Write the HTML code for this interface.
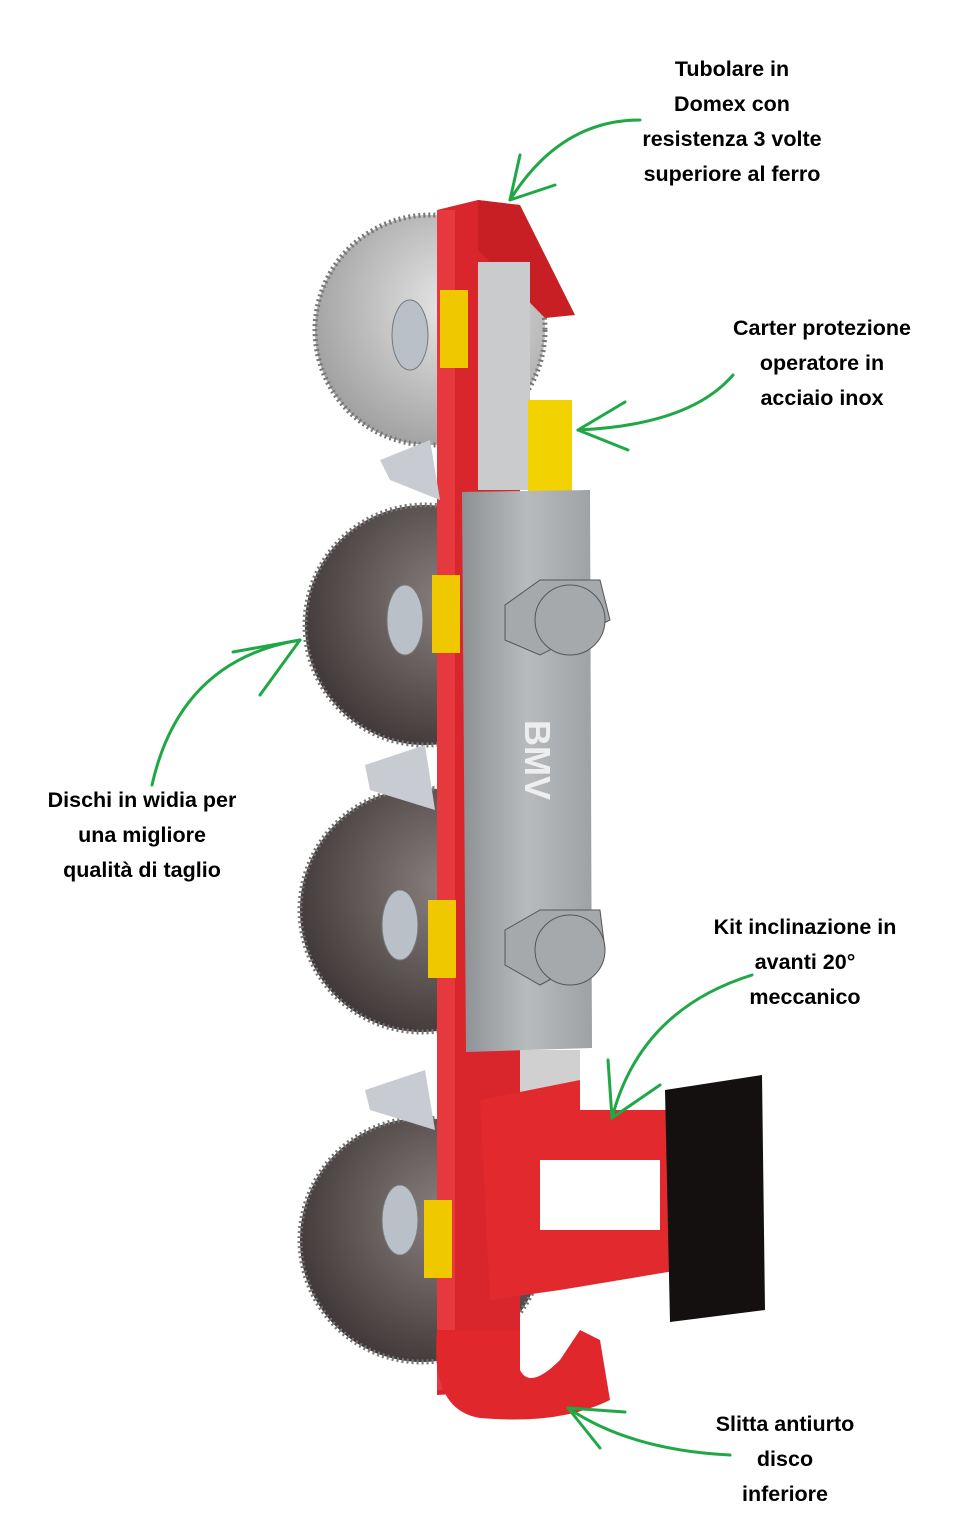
<!DOCTYPE html>
<html><head><meta charset="utf-8"><style>
html,body{margin:0;padding:0;background:#fff;}
svg{display:block}
text{font-family:"Liberation Sans",sans-serif;font-weight:bold;font-size:21.5px;fill:#000;text-anchor:middle}
</style></head><body>
<svg width="963" height="1538" viewBox="0 0 963 1538" xmlns="http://www.w3.org/2000/svg">
<defs>
<radialGradient id="gb" cx="0.6" cy="0.4" r="0.7"><stop offset="0" stop-color="#8a8080"/><stop offset="1" stop-color="#3a3232"/></radialGradient>
<radialGradient id="sb" cx="0.6" cy="0.4" r="0.7"><stop offset="0" stop-color="#e8e8e8"/><stop offset="1" stop-color="#9a9a9a"/></radialGradient>
<linearGradient id="pl" x1="0" x2="1"><stop offset="0" stop-color="#8e9194"/><stop offset="0.5" stop-color="#b8bbbd"/><stop offset="1" stop-color="#9ea2a5"/></linearGradient>
</defs>
<g stroke="#777" stroke-width="5" stroke-dasharray="2 3">
<circle cx="430" cy="330" r="115" fill="url(#sb)"/>
<circle cx="425" cy="625" r="120" fill="url(#gb)"/>
<circle cx="422" cy="910" r="122" fill="url(#gb)"/>
<circle cx="422" cy="1240" r="122" fill="url(#gb)"/>
</g>
<g fill="#b9c0c8" stroke="#777">
<ellipse cx="410" cy="335" rx="18" ry="35"/><ellipse cx="405" cy="620" rx="18" ry="35"/>
<ellipse cx="400" cy="925" rx="18" ry="35"/><ellipse cx="400" cy="1220" rx="18" ry="35"/>
</g>
<polygon points="437,210 478,200 520,205 520,1390 437,1395" fill="#d8262c"/>
<polygon points="478,200 520,205 575,315 545,318 478,250" fill="#c81f25"/>
<rect x="437" y="210" width="18" height="1180" fill="#e6393d"/>
<rect x="478" y="262" width="52" height="228" fill="#c9cbcc"/>
<rect x="528" y="400" width="44" height="92" fill="#f2d200"/>
<g fill="#f0c800"><rect x="440" y="290" width="28" height="78"/><rect x="432" y="575" width="28" height="78"/><rect x="428" y="900" width="28" height="78"/><rect x="424" y="1200" width="28" height="78"/></g>
<g fill="#c8ccd2"><polygon points="380,460 430,440 440,500 390,480"/><polygon points="365,765 425,745 435,810 370,790"/><polygon points="365,1090 425,1070 435,1130 370,1110"/></g>
<polygon points="462,492 590,490 592,1048 466,1052" fill="url(#pl)"/>
<rect x="520" y="1050" width="60" height="50" fill="#d0d0d0"/>
<g fill="#a6a9ac" stroke="#555"><polygon points="505,605 540,580 600,580 610,620 540,655 505,640"/><circle cx="570" cy="620" r="35"/>
<polygon points="505,930 540,910 600,910 605,950 540,985 505,965"/><circle cx="570" cy="950" r="35"/></g>
<text x="525" y="760" transform="rotate(90 525 760)" style="font-size:36px;fill:#eee;">BMV</text>
<polygon points="480,1100 580,1080 580,1110 680,1110 680,1270 560,1290 490,1300" fill="#e1292e"/>
<rect x="540" y="1160" width="120" height="70" fill="#fff"/>
<polygon points="665,1090 762,1075 765,1310 670,1322" fill="#151010"/>
<path d="M437,1330 Q430,1410 480,1418 Q560,1425 610,1400 L600,1340 L580,1330 L560,1360 Q530,1390 520,1370 L520,1330 Z" fill="#df272c"/>
<g stroke="#1fa845" stroke-width="3" fill="none" stroke-linecap="round">
<path d="M640,120 Q560,120 510,200"/><path d="M510,200 L520,155 M510,200 L555,185"/>
<path d="M733,375 Q690,425 578,430"/><path d="M578,430 L625,402 M578,430 L628,450"/>
<path d="M152,785 Q180,660 300,640"/><path d="M300,640 L233,652 M300,640 L260,695"/>
<path d="M752,975 Q640,1010 612,1118"/><path d="M612,1118 L608,1060 M612,1118 L660,1085"/>
<path d="M730,1455 Q630,1450 568,1408"/><path d="M568,1408 L625,1412 M568,1408 L600,1448"/>
</g>
<text x="732" y="76">Tubolare in</text><text x="732" y="111">Domex con</text><text x="732" y="146">resistenza 3 volte</text><text x="732" y="181">superiore al ferro</text>
<text x="822" y="335">Carter protezione</text><text x="822" y="370">operatore in</text><text x="822" y="405">acciaio inox</text>
<text x="142" y="807">Dischi in widia per</text><text x="142" y="842">una migliore</text><text x="142" y="877">qualità di taglio</text>
<text x="805" y="934">Kit inclinazione in</text><text x="805" y="969">avanti 20°</text><text x="805" y="1004">meccanico</text>
<text x="785" y="1431">Slitta antiurto</text><text x="785" y="1466">disco</text><text x="785" y="1501">inferiore</text>
</svg>
</body></html>
